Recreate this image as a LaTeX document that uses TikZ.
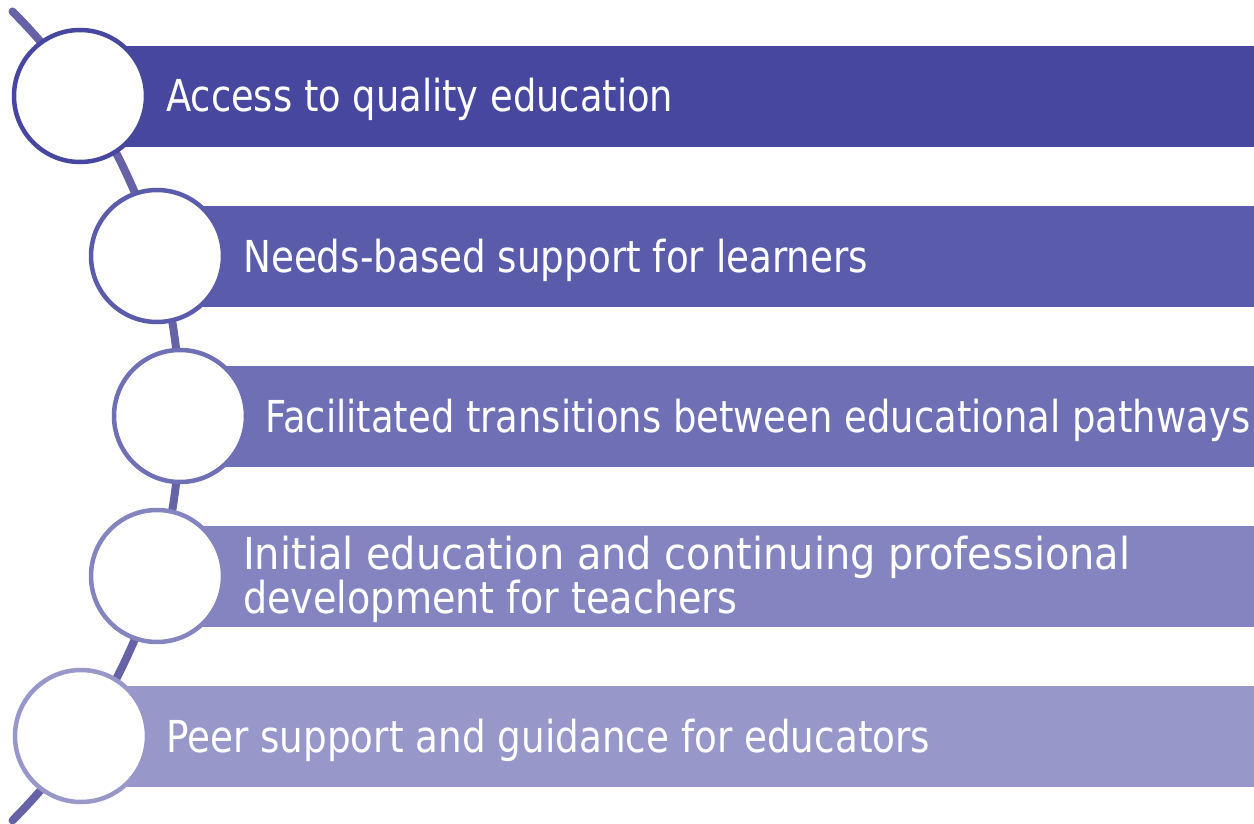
\documentclass[tikz,border=0pt]{standalone}
\usepackage{fontspec}
\setmainfont{DejaVu Sans}
\usepackage{graphicx}
\definecolor{cA}{HTML}{4747A0}
\definecolor{cB}{HTML}{5B5BAC}
\definecolor{cC}{HTML}{6F6FB5}
\definecolor{cD}{HTML}{8484C0}
\definecolor{cE}{HTML}{9797CA}
\definecolor{cL}{HTML}{6662A8}
\newsavebox{\fitbox}
\newcommand{\fitto}[2]{\sbox{\fitbox}{#2}\pgfmathsetmacro{\fitsx}{#1/\wd\fitbox}\scalebox{\fitsx}[1]{\usebox{\fitbox}}}
\tikzset{
  bar/.style={rectangle, draw=none, anchor=west, minimum height=101pt, inner sep=0pt},
  ring/.style={circle, draw=#1, fill=white, line width=4.5pt, minimum size=132pt, inner sep=0pt},
  lbl/.style={anchor=base west, inner sep=0pt, text=white, font=\fontsize{44pt}{48pt}\selectfont},
  spine/.style={draw=cL, line width=8pt, line cap=round}
}
\begin{document}
\begin{tikzpicture}[x=1pt,y=1pt]
\useasboundingbox (0,0) rectangle (1254,-824);
% spine arc
\coordinate (top) at (12.5,-11.5);
\draw[spine] (top) arc[start angle=45, end angle=-45, radius=572pt] coordinate (bot);
% bars
\node[bar, fill=cA, minimum width=1174pt] (b1) at (80,-96.5) {};
\node[bar, fill=cB, minimum width=1097pt] (b2) at (157,-256.5) {};
\node[bar, fill=cC, minimum width=1074pt] (b3) at (180,-416.5) {};
\node[bar, fill=cD, minimum width=1097pt] (b4) at (157,-576.5) {};
\node[bar, fill=cE, minimum width=1174pt] (b5) at (80,-736.5) {};
% circles
\node[ring=cA] (r1) at (80,-96) {};
\node[ring=cB] (r2) at (157,-256) {};
\node[ring=cC] (r3) at (180,-416) {};
\node[ring=cD] (r4) at (157,-576) {};
\node[ring=cE] (r5) at (81,-736) {};
% labels
\node[lbl] (t1) at (166,-112) {\fitto{507}{Access to quality education}};
\node[lbl] (t2) at (243,-272) {\fitto{625}{Needs-based support for learners}};
\node[lbl] (t3) at (265,-432) {\fitto{985}{Facilitated transitions between educational pathways}};
\node[lbl] (t4a) at (243,-569) {\fitto{887}{Initial education and continuing professional}};
\node[lbl] (t4b) at (243,-613) {\fitto{494}{development for teachers}};
\node[lbl] (t5) at (166,-752) {\fitto{764}{Peer support and guidance for educators}};
\end{tikzpicture}
\end{document}
